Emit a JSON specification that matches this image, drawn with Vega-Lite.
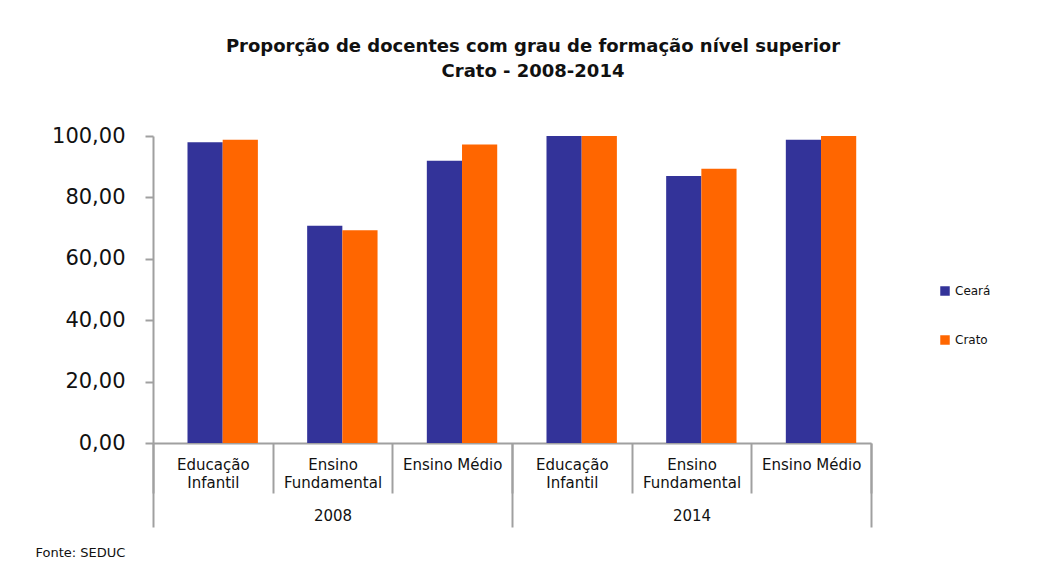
{
  "$schema": "https://vega.github.io/schema/vega-lite/v6.json",
  "autosize": {"type": "none"},
  "width": 718,
  "height": 307,
  "padding": {"left": 153, "top": 136, "right": 172, "bottom": 124},
  "background": "white",
  "config": {"view": {"stroke": null}, "font": "DejaVu Sans"},
  "title": {
    "text": ["Proporção de docentes com grau de formação nível superior", "Crato - 2008-2014"],
    "font": "DejaVu Sans",
    "fontSize": 18,
    "fontWeight": "bold",
    "color": "#111111",
    "lineHeight": 25,
    "anchor": "middle",
    "dx": 21,
    "offset": 44
  },
  "data": {
    "values": [
      {"ano": "2008", "grupo": "2008 Educação Infantil", "serie": "Ceará", "valor": 98.0},
      {"ano": "2008", "grupo": "2008 Educação Infantil", "serie": "Crato", "valor": 98.8},
      {"ano": "2008", "grupo": "2008 Ensino Fundamental", "serie": "Ceará", "valor": 70.8},
      {"ano": "2008", "grupo": "2008 Ensino Fundamental", "serie": "Crato", "valor": 69.3},
      {"ano": "2008", "grupo": "2008 Ensino Médio", "serie": "Ceará", "valor": 91.9},
      {"ano": "2008", "grupo": "2008 Ensino Médio", "serie": "Crato", "valor": 97.2},
      {"ano": "2014", "grupo": "2014 Educação Infantil", "serie": "Ceará", "valor": 100.0},
      {"ano": "2014", "grupo": "2014 Educação Infantil", "serie": "Crato", "valor": 100.0},
      {"ano": "2014", "grupo": "2014 Ensino Fundamental", "serie": "Ceará", "valor": 87.0},
      {"ano": "2014", "grupo": "2014 Ensino Fundamental", "serie": "Crato", "valor": 89.3},
      {"ano": "2014", "grupo": "2014 Ensino Médio", "serie": "Ceará", "valor": 98.8},
      {"ano": "2014", "grupo": "2014 Ensino Médio", "serie": "Crato", "valor": 100.0}
    ]
  },
  "layer": [
    {
      "mark": {"type": "bar"},
      "encoding": {
        "x": {
          "field": "grupo",
          "type": "nominal",
          "sort": null,
          "scale": {"paddingInner": 0, "paddingOuter": 0},
          "axis": {
            "orient": "bottom",
            "title": null,
            "labelAngle": 0,
            "labelExpr": "slice(datum.label,5) == 'Ensino Médio' ? 'Ensino Médio' : split(slice(datum.label,5), ' ')",
            "labelFont": "DejaVu Sans",
            "labelFontSize": 15,
            "labelColor": "#111111",
            "labelLineHeight": 18,
            "labelBaseline": "top",
            "labelPadding": -36,
            "labelLimit": 200,
            "tickBand": "extent",
            "tickSize": 50,
            "tickColor": "#a0a0a0",
            "tickWidth": 2,
            "domainColor": "#a0a0a0",
            "domainWidth": 2
          }
        },
        "xOffset": {
          "field": "serie",
          "type": "nominal",
          "scale": {"paddingInner": 0, "paddingOuter": 0.7, "align": 0.7}
        },
        "y": {
          "field": "valor",
          "type": "quantitative",
          "scale": {"domain": [0, 100], "nice": false},
          "axis": {
            "title": null,
            "values": [0, 20, 40, 60, 80, 100],
            "labelExpr": "replace(format(datum.value, '.2f'), '.', ',')",
            "labelFont": "DejaVu Sans",
            "labelFontSize": 21,
            "labelColor": "#111111",
            "labelPadding": 20,
            "tickSize": 8,
            "tickColor": "#a0a0a0",
            "tickWidth": 2,
            "domainColor": "#a0a0a0",
            "domainWidth": 2,
            "grid": false
          }
        },
        "color": {
          "field": "serie",
          "type": "nominal",
          "scale": {"domain": ["Ceará", "Crato"], "range": ["#333399", "#FF6600"]},
          "legend": {
            "title": null,
            "orient": "none",
            "legendX": 786,
            "legendY": 149,
            "symbolType": "square",
            "symbolSize": 90,
            "symbolStrokeWidth": 0,
            "labelFont": "DejaVu Sans",
            "labelFontSize": 12,
            "labelColor": "#111111",
            "rowPadding": 37
          }
        }
      }
    },
    {
      "mark": {"type": "rule", "strokeOpacity": 0},
      "encoding": {
        "x": {
          "field": "ano",
          "type": "nominal",
          "scale": {"paddingInner": 0, "paddingOuter": 0},
          "axis": {
            "orient": "bottom",
            "title": "Fonte: SEDUC",
            "titleFont": "DejaVu Sans",
            "titleFontSize": 13,
            "titleFontWeight": "normal",
            "titleColor": "#111111",
            "titleAnchor": "start",
            "titleAlign": "left",
            "titleBaseline": "middle",
            "titleX": -118,
            "titleY": 109,
            "labelAngle": 0,
            "labelFont": "DejaVu Sans",
            "labelFontSize": 15,
            "labelColor": "#111111",
            "labelBaseline": "top",
            "labelPadding": -19,
            "tickBand": "extent",
            "tickSize": 84,
            "tickColor": "#a0a0a0",
            "tickWidth": 2,
            "domain": false
          }
        }
      }
    }
  ],
  "resolve": {"scale": {"x": "independent"}}
}
